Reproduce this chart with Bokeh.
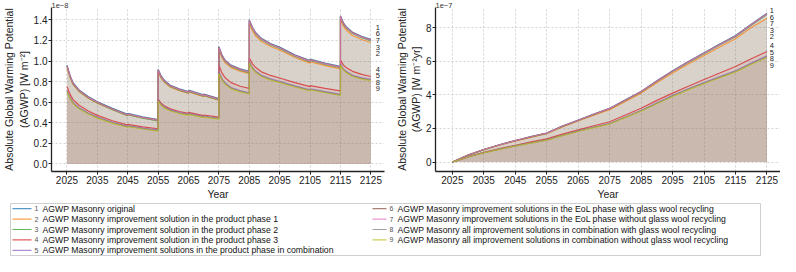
from bokeh.plotting import figure
from bokeh.models import Range1d, FixedTicker, NumeralTickFormatter
from bokeh.layouts import column, row
from bokeh.embed import file_html
from bokeh.resources import INLINE
from bokeh.core.properties import value

# ---------------- data ----------------
# Left panel: AGWP [W m^-2], values in units of 1e-8
years_L = [2025, 2026, 2027, 2029, 2032, 2035, 2040, 2045, 2045, 2050, 2055,
           2055, 2056, 2057, 2059, 2062, 2065, 2065, 2070, 2070, 2075,
           2075, 2076, 2077, 2079, 2082, 2085,
           2085, 2086, 2087, 2089, 2092, 2095, 2100, 2105, 2105, 2110, 2115,
           2115, 2116, 2117, 2119, 2122, 2125]
s1_L = [0.960, 0.860, 0.790, 0.720, 0.655, 0.605, 0.540, 0.482, 0.492, 0.458, 0.432,
        0.920, 0.855, 0.815, 0.765, 0.730, 0.703, 0.718, 0.672, 0.680, 0.636,
        1.140, 1.060, 1.010, 0.960, 0.925, 0.900,
        1.400, 1.330, 1.280, 1.220, 1.170, 1.135, 1.060, 1.005, 1.018, 0.980, 0.948,
        1.440, 1.370, 1.330, 1.280, 1.240, 1.210]
s2_L = [0.936, 0.839, 0.770, 0.702, 0.639, 0.590, 0.527, 0.470, 0.480, 0.447, 0.421,
        0.897, 0.834, 0.795, 0.746, 0.712, 0.685, 0.700, 0.655, 0.663, 0.620,
        1.112, 1.034, 0.985, 0.936, 0.902, 0.878,
        1.365, 1.297, 1.248, 1.190, 1.141, 1.107, 1.034, 0.980, 0.993, 0.956, 0.924,
        1.404, 1.336, 1.297, 1.248, 1.209, 1.180]
s3_L = [0.947, 0.847, 0.777, 0.707, 0.642, 0.592, 0.527, 0.469, 0.479, 0.445, 0.419,
        0.907, 0.842, 0.802, 0.752, 0.717, 0.690, 0.705, 0.659, 0.667, 0.623,
        1.127, 1.047, 0.997, 0.947, 0.912, 0.887,
        1.387, 1.317, 1.267, 1.207, 1.157, 1.122, 1.047, 0.992, 1.005, 0.967, 0.935,
        1.427, 1.357, 1.317, 1.267, 1.227, 1.197]
s4_L = [0.750, 0.680, 0.625, 0.570, 0.515, 0.472, 0.420, 0.378, 0.385, 0.360, 0.342,
        0.630, 0.590, 0.565, 0.535, 0.510, 0.492, 0.502, 0.470, 0.476, 0.455,
        0.960, 0.885, 0.840, 0.790, 0.755, 0.735,
        1.030, 0.975, 0.940, 0.895, 0.860, 0.835, 0.790, 0.752, 0.762, 0.735, 0.710,
        1.010, 0.960, 0.935, 0.900, 0.870, 0.850]
s5_L = [0.714, 0.648, 0.597, 0.546, 0.495, 0.455, 0.404, 0.365, 0.371, 0.348, 0.328,
        0.622, 0.581, 0.556, 0.526, 0.500, 0.483, 0.492, 0.461, 0.466, 0.444,
        0.895, 0.829, 0.789, 0.743, 0.712, 0.692,
        0.994, 0.938, 0.903, 0.862, 0.827, 0.802, 0.759, 0.721, 0.731, 0.703, 0.676,
        0.973, 0.922, 0.897, 0.862, 0.837, 0.822]
s6_L = [0.956, 0.856, 0.786, 0.716, 0.651, 0.601, 0.536, 0.478, 0.488, 0.454, 0.428,
        0.916, 0.851, 0.811, 0.761, 0.726, 0.699, 0.714, 0.668, 0.676, 0.632,
        1.136, 1.056, 1.006, 0.956, 0.921, 0.896,
        1.396, 1.326, 1.276, 1.216, 1.166, 1.131, 1.056, 1.001, 1.014, 0.976, 0.944,
        1.436, 1.366, 1.326, 1.276, 1.236, 1.206]
s7_L = [0.952, 0.852, 0.782, 0.712, 0.647, 0.597, 0.532, 0.474, 0.484, 0.450, 0.424,
        0.912, 0.847, 0.807, 0.757, 0.722, 0.695, 0.710, 0.664, 0.672, 0.628,
        1.132, 1.052, 1.002, 0.952, 0.917, 0.892,
        1.392, 1.322, 1.272, 1.212, 1.162, 1.127, 1.052, 0.997, 1.010, 0.972, 0.940,
        1.432, 1.362, 1.322, 1.272, 1.232, 1.202]
s8_L = [0.707, 0.641, 0.591, 0.540, 0.490, 0.450, 0.400, 0.361, 0.367, 0.344, 0.324,
        0.616, 0.575, 0.550, 0.520, 0.495, 0.478, 0.487, 0.456, 0.461, 0.440,
        0.888, 0.822, 0.782, 0.737, 0.706, 0.686,
        0.987, 0.931, 0.896, 0.856, 0.821, 0.796, 0.754, 0.716, 0.726, 0.698, 0.671,
        0.966, 0.916, 0.891, 0.856, 0.831, 0.816]
s9_L = [0.700, 0.635, 0.585, 0.535, 0.485, 0.445, 0.395, 0.357, 0.363, 0.340, 0.320,
        0.610, 0.570, 0.545, 0.515, 0.490, 0.473, 0.482, 0.451, 0.456, 0.435,
        0.880, 0.815, 0.775, 0.730, 0.700, 0.680,
        0.980, 0.925, 0.890, 0.850, 0.815, 0.790, 0.748, 0.710, 0.720, 0.692, 0.665,
        0.960, 0.910, 0.885, 0.850, 0.825, 0.810]

# Right panel: cumulative AGWP [W m^-2 yr], values in units of 1e-7
years_R = [2025, 2030, 2035, 2040, 2045, 2050, 2055, 2060, 2065, 2070, 2075,
           2080, 2085, 2090, 2095, 2100, 2105, 2110, 2115, 2120, 2125]
s1_R = [0, 0.42, 0.75, 1.03, 1.28, 1.51, 1.73, 2.14, 2.50, 2.86, 3.20,
        3.70, 4.20, 4.83, 5.43, 5.98, 6.50, 7.02, 7.52, 8.20, 8.85]
s2_R = [0, 0.41, 0.73, 1.00, 1.25, 1.47, 1.69, 2.09, 2.44, 2.79, 3.12,
        3.61, 4.10, 4.71, 5.29, 5.83, 6.34, 6.84, 7.33, 8.00, 8.55]
s3_R = [0, 0.415, 0.74, 1.02, 1.27, 1.50, 1.71, 2.12, 2.475, 2.83, 3.17,
        3.665, 4.165, 4.785, 5.38, 5.925, 6.44, 6.955, 7.455, 8.13, 8.77]
s4_R = [0, 0.32, 0.58, 0.80, 1.00, 1.20, 1.38, 1.66, 1.91, 2.16, 2.40,
        2.80, 3.20, 3.67, 4.10, 4.51, 4.91, 5.30, 5.68, 6.14, 6.57]
s5_R = [0, 0.305, 0.56, 0.775, 0.965, 1.15, 1.32, 1.595, 1.85, 2.08, 2.295,
        2.68, 3.065, 3.52, 3.96, 4.355, 4.73, 5.085, 5.43, 5.89, 6.32]
s6_R = [0, 0.42, 0.75, 1.03, 1.28, 1.51, 1.725, 2.135, 2.49, 2.85, 3.19,
        3.69, 4.19, 4.815, 5.415, 5.96, 6.48, 7.00, 7.50, 8.18, 8.82]
s7_R = [0, 0.42, 0.745, 1.025, 1.275, 1.505, 1.72, 2.13, 2.485, 2.84, 3.18,
        3.68, 4.18, 4.80, 5.40, 5.945, 6.465, 6.98, 7.48, 8.16, 8.80]
s8_R = [0, 0.303, 0.555, 0.77, 0.96, 1.14, 1.31, 1.585, 1.84, 2.07, 2.28,
        2.665, 3.05, 3.50, 3.94, 4.33, 4.70, 5.05, 5.395, 5.85, 6.28]
s9_R = [0, 0.30, 0.55, 0.76, 0.95, 1.13, 1.30, 1.57, 1.82, 2.05, 2.26,
        2.64, 3.02, 3.47, 3.90, 4.29, 4.66, 5.01, 5.35, 5.80, 6.22]

series_L = [s1_L, s2_L, s3_L, s4_L, s5_L, s6_L, s7_L, s8_L, s9_L]
series_R = [s1_R, s2_R, s3_R, s4_R, s5_R, s6_R, s7_R, s8_R, s9_R]

labels = [
    "AGWP Masonry original",
    "AGWP Masonry improvement solution in the product phase 1",
    "AGWP Masonry improvement solution in the product phase 2",
    "AGWP Masonry improvement solution in the product phase 3",
    "AGWP Masonry improvement solutions in the product phase in combination",
    "AGWP Masonry improvement solutions in the EoL phase with glass wool recycling",
    "AGWP Masonry improvement solutions in the EoL phase without glass wool recycling",
    "AGWP Masonry all improvement solutions in combination with glass wool recycling",
    "AGWP Masonry all improvement solutions in combination without glass wool recycling",
]
numbers = ["1", "2", "3", "4", "5", "6", "7", "8", "9"]
year_ticks = [2025, 2035, 2045, 2055, 2065, 2075, 2085, 2095, 2105, 2115, 2125]
yticks_L = [0.0, 0.2, 0.4, 0.6, 0.8, 1.0, 1.2, 1.4]
yticks_R = [0, 2, 4, 6, 8]

# ---------------- styles ----------------
COLORS = ["#1f77b4", "#ff7f0e", "#2ca02c", "#d62728", "#9467bd",
          "#8c564b", "#e377c2", "#7f7f7f", "#bcbd22"]
FONT = "Liberation Sans"
FILL_ALPHA = 0.075
LINE_ALPHA = 0.75
CHART_H = 202
LEG_H = 54


def spread(vals, gap, top_limit=None):
    """1-D label repel: returns label y positions (centre-merged clusters)."""
    order = sorted(range(len(vals)), key=lambda i: -vals[i])
    clusters = [[i] for i in order]

    def centre(c):
        return sum(vals[i] for i in c) / len(c)

    merged = True
    while merged:
        merged = False
        for k in range(len(clusters) - 1):
            a, b = clusters[k], clusters[k + 1]
            a_bot = centre(a) - (len(a) - 1) / 2 * gap
            b_top = centre(b) + (len(b) - 1) / 2 * gap
            if a_bot - b_top < gap:
                clusters[k] = a + b
                del clusters[k + 1]
                merged = True
                break
    pos = [0] * len(vals)
    for c in clusters:
        top = centre(c) + (len(c) - 1) / 2 * gap
        if top_limit is not None:
            top = min(top, top_limit)
        for j, i in enumerate(c):
            pos[i] = top - j * gap
    return pos


def make_panel(xs, series, yr, xr, yticks, yfmt, ylabel, offset_txt, width,
               border_left, border_right, gap, label_x, top_limit):
    p = figure(width=width, height=CHART_H, output_backend="svg", toolbar_location=None,
               x_range=Range1d(*xr), y_range=Range1d(*yr),
               min_border_left=border_left, min_border_right=border_right,
               min_border_top=0, min_border_bottom=20)
    p.outline_line_color = None
    p.background_fill_color = "white"
    p.border_fill_color = "white"
    p.title.text = offset_txt
    p.title.text_font = FONT
    p.title.text_font_size = "7.5px"
    p.title.text_font_style = "normal"
    p.title.text_color = "#333333"
    p.title.align = "left"
    p.title.standoff = 0
    p.title.offset = 0

    for s, c in zip(series, COLORS):
        p.varea(x=xs, y1=[0] * len(xs), y2=s, fill_color=c, fill_alpha=FILL_ALPHA)
    for s, c in zip(series, COLORS):
        p.line(x=xs, y=s, line_color=c, line_width=1.2, line_alpha=LINE_ALPHA)

    ends = [s[-1] for s in series]
    ly = spread(ends, gap, top_limit)
    p.text(x=[label_x] * 9, y=ly, text=numbers, text_font=value(FONT),
           text_font_size="7.5px", text_color="#222222",
           text_align="left", text_baseline="middle")

    p.xaxis.ticker = FixedTicker(ticks=year_ticks)
    p.yaxis.ticker = FixedTicker(ticks=yticks)
    p.yaxis.formatter = NumeralTickFormatter(format=yfmt)
    p.xaxis.axis_label = "Year"
    p.yaxis.axis_label = ylabel
    for ax in (p.xaxis, p.yaxis):
        ax.axis_line_color = "#222222"
        ax.axis_line_width = 1.3
        ax.major_tick_line_color = "#222222"
        ax.major_tick_out = 3
        ax.major_tick_in = 0
        ax.minor_tick_line_color = None
        ax.major_label_text_font = FONT
        ax.major_label_text_font_size = "10px"
        ax.major_label_text_color = "#222222"
        ax.major_label_standoff = 1
        ax.axis_label_text_font = FONT
        ax.axis_label_text_font_size = "10.5px"
        ax.axis_label_text_font_style = "normal"
        ax.axis_label_text_color = "#222222"
        ax.axis_label_standoff = 1
    for g in (p.xgrid, p.ygrid):
        g.grid_line_color = "#c8c8c8"
        g.grid_line_dash = "2 2"
        g.grid_line_width = 0.8
    return p


p1 = make_panel(years_L, series_L, (-0.073, 1.52), (2019.9, 2129.5), yticks_L, "0.0",
                "Absolute Global Warming Potential\n(AGWP) [W m\u207b\u00b2]", "1e\u22128",
                388, 42, 4, 0.064, 2126.6, 1.42)
p2 = make_panel(years_R, series_R, (-0.56, 9.19), (2019.65, 2129.3), yticks_R, "0",
                "Absolute Global Warming Potential\n(AGWP) [W m\u207b\u00b2yr]", "1e\u22127",
                392, 47, 0, 0.39, 2125.9, 9.0)

# ---------------- legend panel ----------------
LW = 780
pl = figure(width=LW, height=LEG_H, output_backend="svg", toolbar_location=None,
            x_range=Range1d(0, LW), y_range=Range1d(LEG_H, 0),
            min_border=0)
pl.axis.visible = False
pl.grid.visible = False
pl.outline_line_color = None
pl.quad(left=[10], right=[760], top=[1], bottom=[LEG_H - 1], fill_color="white",
        line_color="#cfcfcf", line_width=1)
col_x = [12, 372]
row_y0, row_dy = 6.2, 10.4
for i in range(9):
    col = 0 if i < 5 else 1
    r = i if i < 5 else i - 5
    x0 = col_x[col]
    yy = row_y0 + r * row_dy
    seg_len = 19 if col == 0 else 14
    pl.segment(x0=[x0], y0=[yy], x1=[x0 + seg_len], y1=[yy], line_color=COLORS[i],
               line_alpha=LINE_ALPHA, line_width=1.2)
    pl.text(x=[x0 + seg_len + 3], y=[yy], text=[numbers[i]], text_font=value(FONT),
            text_font_size="7px", text_color="#555555", text_baseline="middle")
    pl.text(x=[x0 + seg_len + 11], y=[yy], text=[labels[i]], text_font=value(FONT),
            text_font_size="8.7px", text_color="#111111", text_baseline="middle")

layout = column(row(p1, p2), pl)
open("out.html", "w").write(file_html(layout, INLINE))
